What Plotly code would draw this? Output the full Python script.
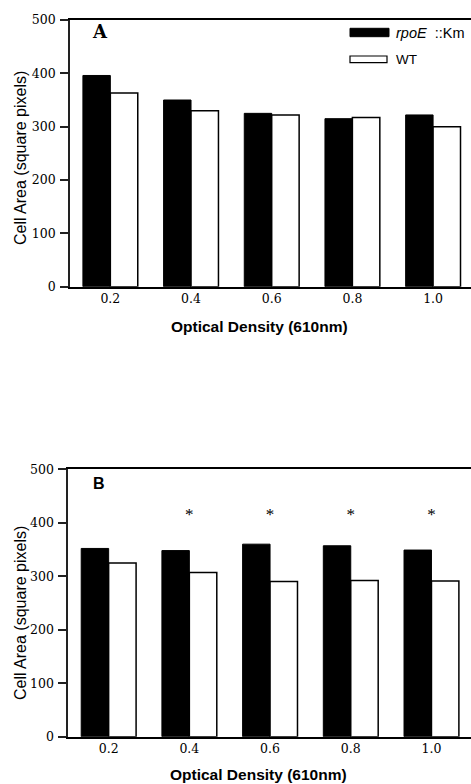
import plotly.graph_objects as go

# ---- data ----
od_labels = ["0.2", "0.4", "0.6", "0.8", "1.0"]
a_rpoe = [396, 350, 325, 315, 322]
a_wt = [363, 330, 322, 317, 300]
b_rpoe = [352, 348, 360, 357, 349]
b_wt = [325, 307, 290, 292, 291]
sig_labels = ["0.4", "0.6", "0.8", "1.0"]
sig_y = [414, 414, 414, 414]
y_ticks = [0, 100, 200, 300, 400, 500]

W, H = 471, 784
serif = "DejaVu Serif"
sans = "Liberation Sans, Arial, sans-serif"

fig = go.Figure()

def add_bars(xa, ya, rp, wt):
    fig.add_trace(go.Bar(x=od_labels, y=rp, xaxis=xa, yaxis=ya, name="rpoE ::Km",
                         marker=dict(color="black", line=dict(color="black", width=1)),
                         showlegend=False))
    fig.add_trace(go.Bar(x=od_labels, y=wt, xaxis=xa, yaxis=ya, name="WT",
                         marker=dict(color="white", line=dict(color="black", width=1.5)),
                         showlegend=False))

add_bars("x", "y", a_rpoe, a_wt)
add_bars("x2", "y2", b_rpoe, b_wt)

fig.add_trace(go.Scatter(x=sig_labels, y=sig_y, xaxis="x2", yaxis="y2", mode="text",
                         text=["*"] * len(sig_labels), textposition="middle center",
                         textfont=dict(family="Liberation Serif", size=17, color="#000000"),
                         showlegend=False, hoverinfo="skip"))

def yax(domain):
    return dict(domain=domain, range=[0, 500], tickvals=y_ticks, ticks="outside",
                ticklen=8, tickwidth=1.5, tickcolor="#222", showline=True, linecolor="#222",
                linewidth=1.8, showgrid=False, zeroline=False, automargin=False,
                tickfont=dict(family=serif, size=12.5, color="black"), ticklabelstandoff=2)

def xax(domain, anchor, rng):
    return dict(domain=domain, anchor=anchor, type="category", range=rng, ticks="",
                showline=True, mirror=True, linecolor="black", linewidth=1.5,
                showgrid=False, zeroline=False, automargin=False,
                tickfont=dict(family=serif, size=12.5, color="black"))

fig.update_layout(
    width=W, height=H, template="none",
    margin=dict(l=0, r=0, t=0, b=0),
    paper_bgcolor="white", plot_bgcolor="white",
    barmode="group", bargap=0.32, bargroupgap=0,
    xaxis=xax([70 / W, 1], "y", [-0.5, 4.47]),
    yaxis=yax([1 - 286.7 / H, 1 - 20 / H]),
    xaxis2=xax([68.3 / W, 1], "y2", [-0.5, 4.49]),
    yaxis2=dict(yax([1 - 736.7 / H, 1 - 469.3 / H]), anchor="x2"),
)
fig.layout.yaxis.anchor = "x"

ann = []
for yc in [158, 613]:
    ann.append(dict(text="Cell Area (square pixels)", x=20 / W, y=1 - yc / H, xref="paper",
                    yref="paper", textangle=-90, showarrow=False,
                    font=dict(family=sans, size=16, color="black"),
                    xanchor="center", yanchor="middle"))
for xc, yc in [(259, 326), (258, 774)]:
    ann.append(dict(text="<b>Optical Density (610nm)</b>", x=xc / W, y=1 - yc / H,
                    xref="paper", yref="paper", showarrow=False,
                    font=dict(family=sans, size=15.5, color="black"),
                    xanchor="center", yanchor="middle"))
ann.append(dict(text="<b>A</b>", x=99.5 / W, y=1 - 31 / H, xref="paper", yref="paper",
                showarrow=False, font=dict(family=serif, size=18, color="black"),
                xanchor="center", yanchor="middle"))
ann.append(dict(text="<b>B</b>", x=99 / W, y=1 - 483 / H, xref="paper", yref="paper",
                showarrow=False, font=dict(family=sans, size=16, color="black"),
                xanchor="center", yanchor="middle"))
ann.append(dict(text="<i>rpoE</i>  ::Km", x=394 / W, y=1 - 33 / H, xref="paper", yref="paper",
                showarrow=False, font=dict(family=sans, size=14.5, color="black"),
                xanchor="left", yanchor="middle"))
ann.append(dict(text="WT", x=394 / W, y=1 - 59.5 / H, xref="paper", yref="paper",
                showarrow=False, font=dict(family=sans, size=13.5, color="black"),
                xanchor="left", yanchor="middle"))
fig.update_layout(annotations=ann)

fig.update_layout(shapes=[
    dict(type="rect", xref="paper", yref="paper", x0=350 / W, x1=389 / W,
         y0=1 - 36.7 / H, y1=1 - 28.3 / H, fillcolor="black", line=dict(color="black", width=1)),
    dict(type="rect", xref="paper", yref="paper", x0=350 / W, x1=387 / W,
         y0=1 - 62.7 / H, y1=1 - 56 / H, fillcolor="white", line=dict(color="black", width=1.2)),
])

fig.write_html("out.html")
